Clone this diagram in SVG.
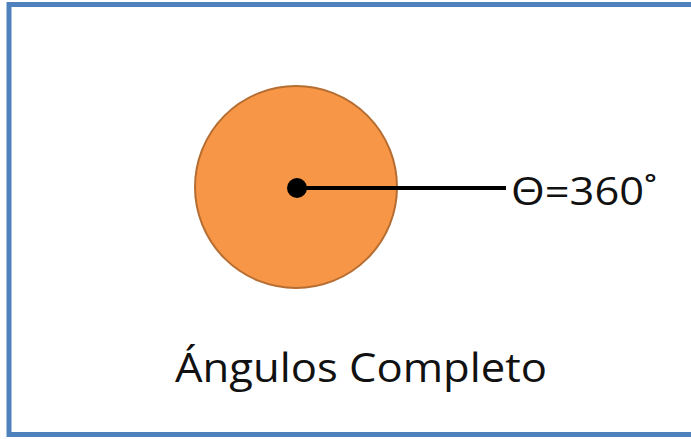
<svg xmlns="http://www.w3.org/2000/svg" width="691" height="439" viewBox="0 0 691 439">
<style>
.t{font-family:"Open Sans","Noto Sans","Liberation Sans",sans-serif;fill:#111;}
</style>
<rect x="0" y="0" width="691" height="439" fill="#fff"/>
<rect id="frame" x="9" y="4.5" width="686" height="430" fill="#fff" stroke="#4F81BD" stroke-width="5"/>
<g id="circle">
<circle cx="296" cy="187" r="101" fill="#F79646" stroke="#B66D31" stroke-width="2"/>
</g>
<g id="connectors">
<line x1="297" y1="188" x2="506" y2="188" stroke="#000" stroke-width="4"/>
</g>
<g id="center">
<circle cx="297" cy="188" r="10" fill="#000"/>
</g>
<g id="angle-label">
<text class="t" x="511" y="205" font-size="38" textLength="146" lengthAdjust="spacingAndGlyphs">Θ=360˚</text>
</g>
<g id="title">
<text class="t" x="175" y="382" font-size="40" textLength="372" lengthAdjust="spacingAndGlyphs">Ángulos Completo</text>
</g>
</svg>
